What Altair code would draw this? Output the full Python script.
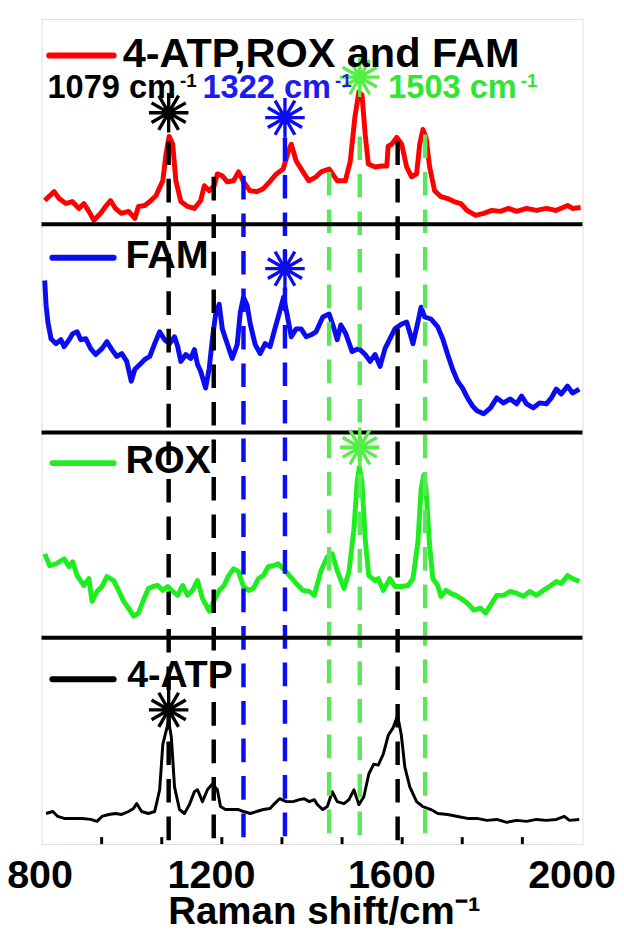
import altair as alt
import pandas as pd

# ---------------- data ----------------
# Raman shift (cm^-1) and intensity (a.u., measured inside each panel)
mix_x = [807, 828, 839, 854, 868, 883, 894, 905, 916, 931, 942, 953, 964, 977, 993, 1007, 1015, 1029,
         1043, 1054, 1069, 1076, 1083, 1091, 1098, 1109, 1124, 1139, 1153, 1161, 1172, 1183, 1190, 1201,
         1212, 1226, 1237, 1248, 1262, 1277, 1292, 1306, 1321, 1336, 1347, 1354, 1365, 1380, 1393, 1409,
         1420, 1438, 1456, 1474, 1485, 1495, 1504, 1511, 1518, 1525, 1540, 1555, 1566, 1569, 1577, 1588,
         1599, 1610, 1621, 1632, 1639, 1646, 1653, 1661, 1672, 1686, 1701, 1715, 1730, 1744, 1763, 1781,
         1799, 1818, 1836, 1854, 1876, 1898, 1920, 1941, 1967, 1978, 1996]
mix_y = [24, 33, 26, 21, 23, 16, 21, 13, 4, 11, 18, 24, 16, 11, 13, 6, 18, 19,
         24, 29, 44, 71, 89, 81, 44, 23, 18, 16, 24, 39, 34, 39, 51, 49,
         43, 44, 53, 43, 34, 33, 36, 43, 51, 56, 73, 81, 64, 53, 44, 48,
         53, 56, 44, 44, 64, 108, 134, 131, 91, 61, 58, 59, 59, 79, 81, 88,
         81, 58, 48, 51, 81, 96, 88, 58, 34, 28, 26, 23, 21, 14, 9, 11,
         14, 13, 16, 13, 16, 14, 16, 14, 19, 16, 17]

fam_x = [807, 810, 814, 821, 832, 843, 850, 861, 869, 879, 887, 898, 909, 920, 934, 945, 956, 967, 978,
         989, 999, 1007, 1018, 1029, 1040, 1051, 1062, 1073, 1084, 1095, 1102, 1109, 1120, 1131, 1139,
         1146, 1153, 1164, 1172, 1179, 1186, 1194, 1201, 1212, 1223, 1234, 1241, 1248, 1256, 1263, 1274,
         1285, 1296, 1307, 1317, 1328, 1337, 1345, 1354, 1365, 1376, 1387, 1398, 1409, 1424, 1438, 1449,
         1456, 1464, 1475, 1489, 1504, 1518, 1529, 1540, 1551, 1562, 1573, 1584, 1599, 1610, 1624, 1635,
         1642, 1650, 1664, 1679, 1690, 1701, 1712, 1723, 1734, 1745, 1756, 1766, 1781, 1796, 1810, 1825,
         1840, 1854, 1865, 1876, 1891, 1905, 1920, 1931, 1942, 1953, 1967, 1978, 1993]
fam_y = [154, 129, 112, 95, 90, 94, 87, 94, 100, 102, 94, 95, 85, 79, 85, 92, 84, 77, 80,
         72, 52, 64, 69, 74, 77, 90, 102, 94, 90, 97, 87, 72, 79, 75, 84,
         69, 62, 45, 65, 95, 119, 130, 105, 90, 75, 89, 122, 137, 129, 110, 89,
         80, 90, 87, 104, 122, 137, 119, 97, 105, 105, 97, 99, 102, 117, 120, 105,
         94, 109, 100, 82, 85, 79, 72, 79, 67, 85, 95, 105, 110, 112, 90, 112,
         127, 117, 115, 107, 95, 79, 64, 52, 45, 35, 27, 22, 19, 25, 35, 30,
         34, 29, 37, 29, 25, 30, 29, 35, 44, 39, 47, 40, 44]

rox_x = [807, 818, 832, 850, 861, 869, 879, 894, 905, 912, 923, 934, 945, 960, 971, 982, 993, 1004,
         1015, 1026, 1037, 1047, 1058, 1069, 1080, 1091, 1102, 1113, 1124, 1135, 1146, 1157, 1172, 1183,
         1194, 1205, 1215, 1226, 1237, 1248, 1259, 1270, 1281, 1292, 1303, 1314, 1325, 1336, 1350, 1365,
         1380, 1394, 1405, 1420, 1434, 1445, 1456, 1471, 1482, 1493, 1500, 1505, 1511, 1518, 1526, 1540,
         1547, 1558, 1573, 1584, 1599, 1613, 1624, 1635, 1642, 1648, 1653, 1661, 1668, 1679, 1686, 1697,
         1708, 1719, 1730, 1745, 1759, 1774, 1785, 1796, 1810, 1825, 1840, 1854, 1869, 1883, 1898, 1913,
         1927, 1942, 1953, 1967, 1978, 1993]
rox_y = [85, 73, 75, 80, 72, 77, 63, 53, 60, 37, 47, 52, 62, 58, 48, 37, 30, 22,
         25, 38, 50, 52, 53, 48, 52, 47, 43, 53, 43, 48, 58, 40, 27, 38,
         48, 53, 63, 70, 67, 52, 48, 50, 60, 63, 72, 73, 75, 70, 63, 55,
         48, 47, 43, 68, 82, 85, 68, 50, 67, 110, 157, 173, 157, 100, 63, 58,
         60, 48, 60, 52, 52, 53, 60, 97, 150, 165, 150, 93, 60, 53, 42, 48,
         45, 43, 40, 35, 28, 30, 25, 33, 43, 43, 47, 45, 42, 47, 43, 48,
         52, 57, 55, 63, 60, 57]

atp_x = [810, 825, 836, 850, 869, 890, 909, 923, 934, 949, 964, 978, 993, 1004, 1011, 1022, 1037, 1051,
         1062, 1069, 1082, 1088, 1095, 1106, 1117, 1128, 1139, 1146, 1157, 1168, 1179, 1190, 1197, 1208,
         1223, 1237, 1248, 1263, 1277, 1292, 1307, 1317, 1328, 1343, 1358, 1372, 1383, 1394, 1405, 1412,
         1424, 1434, 1445, 1456, 1471, 1482, 1493, 1504, 1515, 1526, 1537, 1547, 1558, 1569, 1580, 1590,
         1598, 1606, 1617, 1632, 1646, 1664, 1679, 1701, 1723, 1745, 1766, 1788, 1810, 1832, 1854, 1876,
         1898, 1920, 1942, 1960, 1971, 1993]
atp_y = [31, 33, 28, 26, 26, 26, 25, 23, 28, 30, 31, 30, 33, 36, 41, 33, 31, 33,
         55, 101, 125, 108, 58, 35, 31, 40, 53, 55, 43, 55, 61, 55, 38, 35,
         35, 35, 33, 31, 33, 35, 36, 41, 46, 43, 43, 45, 46, 43, 45, 40,
         35, 38, 53, 43, 41, 45, 55, 40, 48, 71, 81, 80, 91, 110, 118, 130,
         111, 78, 58, 43, 38, 35, 31, 30, 28, 26, 26, 24, 25, 22, 24, 23,
         25, 24, 25, 28, 24, 25]

# panels, top to bottom
panel_names = ["4-ATP,ROX and FAM", "FAM", "ROX", "4-ATP"]
panel_x = [mix_x, fam_x, rox_x, atp_x]
panel_y = [mix_y, fam_y, rox_y, atp_y]

# marked bands (cm^-1)
band_pos = [1082, 1182, 1248, 1340, 1438, 1506, 1590, 1651]
band_group = ["atp", "atp", "fam", "fam", "rox", "rox", "atp", "rox"]

peak_labels = ["1079 cm", "1322 cm", "1503 cm"]
peak_groups = ["atp", "fam", "rox"]

x_ticks = [800, 1200, 1600, 2000]
minor_ticks = [933.3, 1066.7, 1200, 1333.3, 1466.7, 1600, 1733.3, 1866.7]

# ---------------- layout / style ----------------
FONT = "Liberation Sans"
panel_base = [628, 417, 209, 0]           # vertical offset of each panel
panel_color = ["#ff0000", "#0c0cf2", "#1eee1e", "#000000"]
panel_width = [5, 5, 5, 3]
group_color = {"atp": "#000000", "fam": "#0c0cf2", "rox": "#5ce65c"}
text_color = {"atp": "#000000", "fam": "#1c1cee", "rox": "#33e433"}

xsc = alt.Scale(domain=[800, 2000], nice=False, zero=False)
ysc = alt.Scale(domain=[0, 836], nice=False, zero=False)

layers = []

# spectra
for name, xs, ys, base, col, w in zip(panel_names, panel_x, panel_y, panel_base, panel_color, panel_width):
    df = pd.DataFrame({"shift": xs, "inten": ys})
    df["yy"] = df["inten"] + base
    layers.append(
        alt.Chart(df).mark_line(color=col, strokeWidth=w, strokeJoin="round", clip=True).encode(
            x=alt.X("shift:Q", scale=xsc,
                    axis=alt.Axis(values=x_ticks, format="d", title="Raman shift/cm⁻¹", grid=False,
                                  domain=False, ticks=False, tickSize=0, labelFlush=False,
                                  labelOverlap=False, labelFont=FONT, labelFontSize=40,
                                  labelFontWeight="bold", labelColor="black", labelPadding=44,
                                  labelBaseline="alphabetic",
                                  labelOffset={"condition": {"test": "datum.value == 800", "value": -2},
                                               "value": -11},
                                  titleFont=FONT, titleFontSize=39, titleFontWeight="bold",
                                  titleColor="black", titleBaseline="alphabetic",
                                  titleX=286, titleY=80)),
            y=alt.Y("yy:Q", scale=ysc, axis=None),
            order="shift:Q",
        )
    )

# dashed band markers
band_top = [712, 676, 677, 716, 681, 717, 712, 719]
bdf = pd.DataFrame({"shift": band_pos, "top": band_top, "bot": [0] * len(band_pos),
                    "col": [group_color[g] for g in band_group]})
layers.append(
    alt.Chart(bdf).mark_rule(strokeWidth=4.5, strokeDash=[24, 14]).encode(
        x=alt.X("shift:Q", scale=xsc), y=alt.Y("top:Q", scale=ysc), y2="bot:Q",
        color=alt.Color("col:N", scale=None)
    )
)

# panel separators
sdf = pd.DataFrame({"yy": panel_base[:3]})
layers.append(
    alt.Chart(sdf).mark_rule(strokeWidth=4, color="black").encode(
        y=alt.Y("yy:Q", scale=ysc), x=alt.value(0), x2=alt.value(548)
    )
)

# minor ticks on the bottom axis
tdf = pd.DataFrame({"shift": minor_ticks, "a": [0] * len(minor_ticks), "b": [7] * len(minor_ticks)})
layers.append(
    alt.Chart(tdf).mark_rule(strokeWidth=3, color="black").encode(
        x=alt.X("shift:Q", scale=xsc), y=alt.Y("a:Q", scale=ysc), y2="b:Q"
    )
)

# asterisks on the marked peaks
star_path = ("M0,-1L0,1M-1,0L1,0M0.5,-0.866L-0.5,0.866M-0.5,-0.866L0.5,0.866"
             "M0.866,-0.5L-0.866,0.5M-0.866,-0.5L0.866,0.5")
star_shift = [1082, 1340, 1506, 1340, 1506, 1082]
star_y = [741, 736, 777, 583, 402, 136]
star_grp = ["atp", "fam", "rox", "fam", "rox", "atp"]
stdf = pd.DataFrame({"shift": star_shift, "yy": star_y,
                     "col": [{"atp": "#000000", "fam": "#0c0cf2", "rox": "#55ee44"}[g] for g in star_grp]})
layers.append(
    alt.Chart(stdf).mark_point(shape=star_path, size=1600, filled=False, strokeWidth=3.4).encode(
        x=alt.X("shift:Q", scale=xsc), y=alt.Y("yy:Q", scale=ysc),
        color=alt.Color("col:N", scale=None), opacity=alt.value(1)
    )
)

# legend samples and names inside each panel
leg_line_y = [799, 594, 386, 167]
leg_text_y = [787, 584, 376, 159]
ldf = pd.DataFrame({"x1": [817, 824, 824, 824], "x2": [960, 960, 960, 960], "yy": leg_line_y,
                    "col": panel_color})
layers.append(
    alt.Chart(ldf).mark_rule(strokeWidth=6, strokeCap="round").encode(
        x=alt.X("x1:Q", scale=xsc), x2="x2:Q", y=alt.Y("yy:Q", scale=ysc),
        color=alt.Color("col:N", scale=None)
    )
)
ltdf = pd.DataFrame({"xx": [980, 986, 986, 990], "yy": leg_text_y, "txt": panel_names,
                     "fs": [42, 40, 40, 38]})
layers.append(
    alt.Chart(ltdf).mark_text(align="left", baseline="alphabetic", font=FONT, fontWeight="bold",
                              color="black").encode(
        x=alt.X("xx:Q", scale=xsc), y=alt.Y("yy:Q", scale=ysc), text="txt:N",
        size=alt.Size("fs:Q", scale=None, legend=None)
    )
)

# peak labels with superscript
pdf_main = pd.DataFrame({"xx": [813, 1157, 1569], "yy": [756] * 3, "txt": peak_labels,
                         "col": [text_color[g] for g in peak_groups]})
pdf_sup = pd.DataFrame({"xx": [1107, 1451, 1863], "yy": [767] * 3, "txt": ["-1"] * 3,
                        "col": [text_color[g] for g in peak_groups]})
layers.append(
    alt.Chart(pdf_main).mark_text(align="left", baseline="alphabetic", font=FONT, fontWeight="bold",
                                  fontSize=33).encode(
        x=alt.X("xx:Q", scale=xsc), y=alt.Y("yy:Q", scale=ysc), text="txt:N",
        color=alt.Color("col:N", scale=None)
    )
)
layers.append(
    alt.Chart(pdf_sup).mark_text(align="left", baseline="alphabetic", font=FONT, fontWeight="bold",
                                 fontSize=19).encode(
        x=alt.X("xx:Q", scale=xsc), y=alt.Y("yy:Q", scale=ysc), text="txt:N",
        color=alt.Color("col:N", scale=None)
    )
)

chart = alt.layer(*layers).properties(
    width=548, height=836,
    autosize=alt.AutoSizeParams(type="none"),
    padding={"left": 34, "top": 5, "right": 34, "bottom": 83},
).configure_view(stroke="black", strokeWidth=4.5).configure(background="white")

chart.save("out.html", embed_options={"renderer": "svg", "actions": False})
